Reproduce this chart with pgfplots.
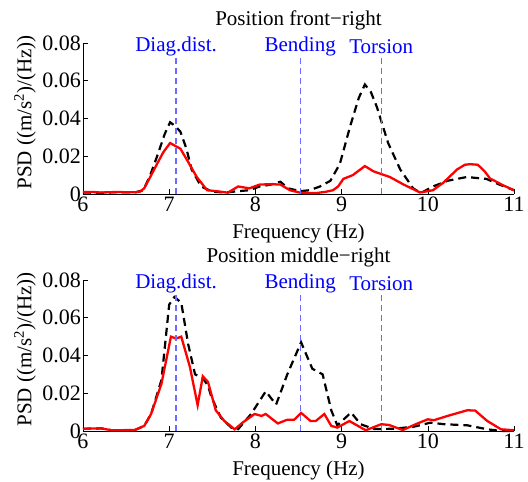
\documentclass[border=0pt]{standalone}
\usepackage{fontspec}
\setmainfont{Liberation Serif}
\usepackage{pgfplots}
\pgfplotsset{compat=1.18}
\definecolor{lineblue}{rgb}{0.42,0.42,1}
\definecolor{txtblue}{rgb}{0,0,1}
\tikzset{mlab/.style={text=txtblue, font=\fontsize{21}{21}\selectfont, anchor=center}}
\pgfplotsset{
  psd/.style={
    scale only axis, width=431pt, height=151pt,
    xmin=6, xmax=11, ymin=0, ymax=0.08,
    axis x line*=bottom, axis y line*=left,
    axis line style={line width=0.6pt},
    scaled y ticks=false, scaled x ticks=false,
    xtick={6,7,8,9,10,11},
    xticklabels={\textrm{6},\textrm{7},\textrm{8},\textrm{9},\textrm{10},\textrm{11}},
    ytick={0,0.02,0.04,0.06,0.08},
    yticklabels={\textrm{0},\textrm{0.02},\textrm{0.04},\textrm{0.06},\textrm{0.08}},
    tick align=inside, major tick length=5pt,
    tick style={line width=0.6pt, black},
    ticklabel style={font=\fontsize{22}{22}\selectfont},
    xticklabel style={anchor=center, yshift=-10pt, inner sep=0pt},
    yticklabel style={anchor=east, xshift=-2pt, inner sep=0pt},
    label style={font=\fontsize{21}{21}\selectfont},
    every axis title shift=0pt,
    title style={font=\fontsize{21}{21}\selectfont, at={(axis description cs:0.5,1)}, anchor=center, yshift=23pt},
    xlabel={Frequency (Hz)},
    ylabel={PSD ((m/s\textsuperscript{2})/(Hz))},
    xlabel style={at={(axis description cs:0.5,0)}, anchor=center, yshift=-39pt},
    ylabel style={at={(axis description cs:0,0.54)}, anchor=center, yshift=58pt},
    clip=false,
  },
  blk/.style={black, line width=2.2pt, dash pattern=on 8pt off 5pt},
  rd/.style={red, line width=2.3pt},
  vl/.style={lineblue, line width=1.2pt, dash pattern=on 6pt off 4pt},
}
\begin{document}
\begin{tikzpicture}
\begin{axis}[psd, at={(0pt,0pt)}, anchor=south west, title={Position front\textminus right}]
\addplot[blk] coordinates {
(6.00,0.0008) (6.20,0.0006) (6.40,0.0010) (6.60,0.0008) (6.70,0.002)
(6.78,0.010) (6.86,0.020) (6.95,0.032) (7.01,0.038) (7.07,0.036)
(7.13,0.033) (7.20,0.024) (7.26,0.013) (7.37,0.004) (7.50,0.0012)
(7.65,0.0008) (7.80,0.0015) (7.93,0.002) (8.05,0.004) (8.18,0.005)
(8.29,0.0065) (8.38,0.003) (8.52,0.0015) (8.63,0.002) (8.75,0.004)
(8.87,0.007) (8.98,0.016) (9.10,0.036) (9.20,0.051) (9.27,0.058)
(9.34,0.054) (9.41,0.046) (9.54,0.027) (9.68,0.013) (9.83,0.003)
(9.92,0.0005) (10.06,0.004) (10.23,0.007) (10.45,0.009) (10.68,0.008)
(10.83,0.005) (11.00,0.002)
};
\addplot[rd] coordinates {
(6.00,0.0010) (6.10,0.0011) (6.20,0.0008) (6.30,0.0009) (6.40,0.0011)
(6.50,0.0009) (6.60,0.0009) (6.66,0.0012) (6.71,0.003) (6.78,0.009)
(6.86,0.016) (6.93,0.022) (7.01,0.027) (7.07,0.0255) (7.13,0.024)
(7.22,0.017) (7.32,0.009) (7.44,0.002) (7.55,0.0015) (7.68,0.0007)
(7.80,0.004) (7.93,0.003) (8.05,0.005) (8.18,0.0052) (8.29,0.005)
(8.40,0.002) (8.52,0.0007) (8.61,0.0005) (8.71,0.0005) (8.82,0.0012)
(8.90,0.002) (8.96,0.004) (9.02,0.008) (9.13,0.010) (9.27,0.0148)
(9.37,0.012) (9.56,0.009) (9.72,0.005) (9.91,0.0008) (10.06,0.002)
(10.18,0.006) (10.34,0.013) (10.43,0.0155) (10.49,0.0158) (10.58,0.0155)
(10.66,0.012) (10.72,0.0083) (10.87,0.0047) (11.00,0.002)
};
\addplot[vl] coordinates {(7.08,0) (7.08,0.074)};
\addplot[vl] coordinates {(8.52,0) (8.52,0.074)};
\addplot[vl] coordinates {(9.46,0) (9.46,0.074)};
\node[mlab] at (axis cs:7.08,0.078) {Diag.dist.};
\node[mlab] at (axis cs:8.52,0.078) {Bending};
\node[mlab] at (axis cs:9.46,0.078) {Torsion};
\end{axis}
\begin{axis}[psd, at={(0pt,-237pt)}, anchor=south west, title={Position middle\textminus right}]
\addplot[blk] coordinates {
(6.00,0.0012) (6.21,0.0014) (6.33,0.0004) (6.60,0.0005) (6.71,0.0027)
(6.79,0.009) (6.91,0.027) (7.00,0.067) (7.06,0.071) (7.14,0.068)
(7.22,0.046) (7.30,0.030) (7.39,0.028) (7.45,0.024) (7.49,0.018)
(7.60,0.007) (7.72,0.0018) (7.80,0.001) (7.95,0.009) (8.12,0.021)
(8.24,0.014) (8.37,0.030) (8.53,0.047) (8.66,0.033) (8.78,0.030)
(8.88,0.011) (8.95,0.003) (9.11,0.0098) (9.22,0.0036) (9.38,0.001)
(9.61,0.0012) (9.84,0.0023) (10.03,0.0044) (10.19,0.0036) (10.46,0.003)
(10.69,0.0009) (10.85,0.0) (11.00,0.0)
};
\addplot[rd] coordinates {
(6.00,0.0012) (6.21,0.0014) (6.33,0.0004) (6.60,0.0005) (6.71,0.0027)
(6.79,0.009) (6.91,0.025) (7.02,0.050) (7.08,0.049) (7.14,0.050)
(7.24,0.034) (7.33,0.0137) (7.39,0.029) (7.45,0.026) (7.54,0.011)
(7.64,0.0053) (7.76,0.0009) (7.85,0.0044) (7.99,0.009) (8.07,0.008)
(8.12,0.009) (8.26,0.004) (8.37,0.006) (8.45,0.006) (8.53,0.0096)
(8.64,0.0053) (8.70,0.0053) (8.80,0.009) (8.88,0.0027) (8.95,0.0018)
(9.09,0.0053) (9.19,0.0027) (9.28,0.0004) (9.46,0.0036) (9.55,0.0032)
(9.71,0.0005) (9.86,0.0036) (10.00,0.0062) (10.07,0.0057) (10.23,0.008)
(10.46,0.011) (10.55,0.0108) (10.69,0.0053) (10.85,0.0009) (11.00,0.0004)
};
\addplot[vl] coordinates {(7.08,0) (7.08,0.074)};
\addplot[vl] coordinates {(8.52,0) (8.52,0.074)};
\addplot[vl] coordinates {(9.46,0) (9.46,0.074)};
\node[mlab] at (axis cs:7.08,0.078) {Diag.dist.};
\node[mlab] at (axis cs:8.52,0.078) {Bending};
\node[mlab] at (axis cs:9.46,0.078) {Torsion};
\end{axis}
\pgfresetboundingbox
\path[use as bounding box] (-83pt,-288pt) rectangle (445pt,194pt);
\end{tikzpicture}
\end{document}
